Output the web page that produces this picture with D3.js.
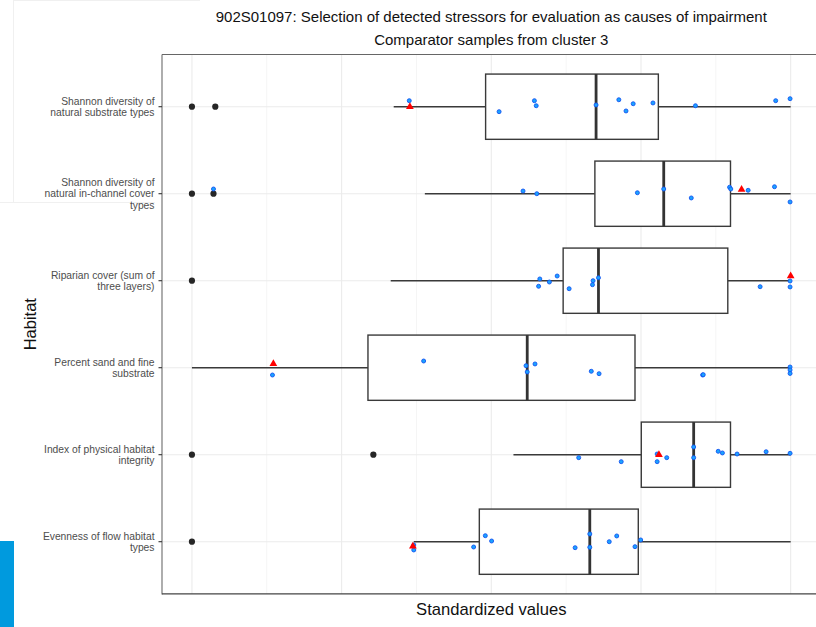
<!DOCTYPE html>
<html><head><meta charset="utf-8">
<script src="https://cdn.jsdelivr.net/npm/d3@7"></script>
<style>html,body{margin:0;padding:0;background:#fff;}svg{display:block;font-family:"Liberation Sans",Arial,sans-serif;}</style>
</head><body>
<svg id="chart" width="816" height="627"></svg>
<script>
const titleText = "902S01097: Selection of detected stressors for evaluation as causes of impairment";
const subtitleText = "Comparator samples from cluster 3";
const xTitle = "Standardized values";
const yTitle = "Habitat";

const categories = [
  "Shannon diversity of\nnatural substrate types",
  "Shannon diversity of\nnatural in-channel cover\ntypes",
  "Riparian cover (sum of\nthree layers)",
  "Percent sand and fine\nsubstrate",
  "Index of physical habitat\nintegrity",
  "Evenness of flow habitat\ntypes"
];

const whiskerLow  = [0.337, 0.389, 0.332, 0.000, 0.537, 0.3705];
const q1          = [0.4905, 0.673, 0.620, 0.294, 0.7505, 0.480];
const median      = [0.675, 0.788, 0.679, 0.560, 0.838, 0.6645];
const q3          = [0.779, 0.8995, 0.895, 0.740, 0.8995, 0.7455];
const whiskerHigh = [1.0, 1.0, 1.0, 1.0, 1.0, 1.0];

const outliers = [[0, 0.039], [0, 0.036], [0], [], [0, 0.303], [0]];

const sampleValues = [
  [0.363, 0.513, 0.572, 0.575, 0.675, 0.713, 0.725, 0.737, 0.770, 0.841, 0.975, 0.999],
  [0.036, 0.553, 0.576, 0.744, 0.788, 0.834, 0.898, 0.900, 0.929, 0.973, 0.999],
  [0.581, 0.579, 0.597, 0.610, 0.630, 0.670, 0.669, 0.679, 0.949, 0.999, 0.999],
  [0.1345, 0.387, 0.558, 0.560, 0.573, 0.667, 0.680, 0.853, 0.854, 0.999, 0.999, 0.999],
  [0.646, 0.717, 0.777, 0.777, 0.793, 0.838, 0.838, 0.879, 0.886, 0.9105, 0.959, 0.999],
  [0.3705, 0.3705, 0.4705, 0.490, 0.5005, 0.640, 0.6645, 0.6645, 0.697, 0.7095, 0.740, 0.7495]
];
const sampleJitter = [
  [-0.069, 0.057, -0.069, -0.011, -0.02, -0.08, 0.049, -0.034, -0.043, -0.011, -0.069, -0.092],
  [-0.054, -0.031, 0, -0.011, -0.054, 0.049, -0.074, -0.054, -0.039, -0.08, 0.095],
  [-0.02, 0.064, 0.015, -0.054, 0.092, 0, 0.046, -0.034, 0.069, 0.003, 0.072],
  [0.084, -0.077, -0.023, 0.049, -0.043, 0.041, 0.069, 0.084, 0.08, -0.008, 0.026, 0.066],
  [0.034, 0.08, -0.008, 0.08, 0.034, -0.089, 0.034, -0.039, -0.02, -0.008, -0.034, -0.016],
  [0.038, 0.095, 0.061, -0.069, -0.008, 0.069, -0.089, 0.064, 0, -0.066, 0.057, -0.02]
];

const siteValue  = [0.364, 0.918, 1.0, 0.136, 0.780, 0.369];
const siteJitter = [0, -0.048, -0.054, -0.046, 0, 0.053];

const svg = d3.select("#chart");
const W = 816, H = 627;
const panel = {left: 162, right: 820.6, top: 54.5, bottom: 593.9};

const x = d3.scaleLinear().domain([-0.05, 1.05]).range([panel.left, panel.right]);
const y = d3.scalePoint().domain(categories).range([panel.top, panel.bottom]).padding(0.6);
const step = y.step();
const boxH = step * 0.75;

// faint artifacts
svg.append("rect").attr("x", 0).attr("y", 541).attr("width", 14).attr("height", 86).attr("fill", "#009ADE");
svg.append("path").attr("d", "M13.5,0V202.5M0,202.5H155M13.5,0.5H200").attr("stroke", "#f0f0f0").attr("fill", "none");

// panel
svg.append("clipPath").attr("id", "pc").append("rect")
  .attr("x", panel.left).attr("y", panel.top).attr("width", panel.right - panel.left).attr("height", panel.bottom - panel.top);
const g = svg.append("g").attr("clip-path", "url(#pc)");
g.append("rect").attr("x", panel.left).attr("y", panel.top).attr("width", panel.right - panel.left).attr("height", panel.bottom - panel.top).attr("fill", "#fff");

const minorTicks = [0.125, 0.375, 0.625, 0.875];
const majorTicks = [0, 0.25, 0.5, 0.75, 1];
g.selectAll(".minor").data(minorTicks).join("line")
  .attr("x1", d => x(d)).attr("x2", d => x(d)).attr("y1", panel.top).attr("y2", panel.bottom)
  .attr("stroke", "#f2f2f2").attr("stroke-width", 0.8);
g.selectAll(".major").data(majorTicks).join("line")
  .attr("x1", d => x(d)).attr("x2", d => x(d)).attr("y1", panel.top).attr("y2", panel.bottom)
  .attr("stroke", "#ebebeb").attr("stroke-width", 1.1);
g.selectAll(".hgrid").data(categories).join("line")
  .attr("x1", panel.left).attr("x2", panel.right).attr("y1", d => y(d)).attr("y2", d => y(d))
  .attr("stroke", "#ebebeb").attr("stroke-width", 1.1);

const boxColor = "#3a3a3a";
categories.forEach((c, i) => {
  const cy = y(c);
  g.append("line").attr("x1", x(whiskerLow[i])).attr("x2", x(q1[i])).attr("y1", cy).attr("y2", cy)
    .attr("stroke", boxColor).attr("stroke-width", 1.4);
  g.append("line").attr("x1", x(q3[i])).attr("x2", x(whiskerHigh[i])).attr("y1", cy).attr("y2", cy)
    .attr("stroke", boxColor).attr("stroke-width", 1.4);
  g.append("rect").attr("x", x(q1[i])).attr("y", cy - boxH / 2).attr("width", x(q3[i]) - x(q1[i])).attr("height", boxH)
    .attr("fill", "#fff").attr("stroke", boxColor).attr("stroke-width", 1.4);
  g.append("line").attr("x1", x(median[i])).attr("x2", x(median[i])).attr("y1", cy - boxH / 2).attr("y2", cy + boxH / 2)
    .attr("stroke", "#333").attr("stroke-width", 2.8);
  outliers[i].forEach(v => {
    g.append("circle").attr("cx", x(v)).attr("cy", cy).attr("r", 3.1).attr("fill", "#262626");
  });
});

categories.forEach((c, i) => {
  const cy = y(c);
  sampleValues[i].forEach((v, j) => {
    g.append("circle").attr("cx", x(v)).attr("cy", cy + sampleJitter[i][j] * step).attr("r", 2)
      .attr("fill", "#1aa3ff").attr("stroke", "#1454f0").attr("stroke-width", 0.9);
  });
});

const tri = d3.symbol().type(d3.symbolTriangle).size(26);
categories.forEach((c, i) => {
  const cy = y(c);
  g.append("path").attr("d", tri()).attr("transform", `translate(${x(siteValue[i])},${cy + siteJitter[i] * step})`)
    .attr("fill", "#ff0000");
});

// axis lines
svg.append("line").attr("x1", panel.left).attr("x2", panel.left).attr("y1", panel.top).attr("y2", panel.bottom + 0.5)
  .attr("stroke", "#777").attr("stroke-width", 1.2);
svg.append("line").attr("x1", panel.left).attr("x2", W).attr("y1", panel.bottom).attr("y2", panel.bottom)
  .attr("stroke", "#444").attr("stroke-width", 1.2);
svg.append("line").attr("x1", panel.left).attr("x2", W).attr("y1", panel.top).attr("y2", panel.top)
  .attr("stroke", "#666").attr("stroke-width", 1);

// y ticks & labels
const yAxisG = svg.append("g");
categories.forEach(c => {
  const cy = y(c);
  yAxisG.append("line").attr("x1", panel.left - 3.5).attr("x2", panel.left).attr("y1", cy).attr("y2", cy)
    .attr("stroke", "#333").attr("stroke-width", 1.1);
  const lines = c.split("\n");
  const lh = 11.3;
  lines.forEach((ln, k) => {
    yAxisG.append("text").attr("x", 154.5).attr("y", cy + (k - (lines.length - 1) / 2) * lh + 3.7)
      .attr("text-anchor", "end").attr("font-size", 10.3).attr("fill", "#4d4d4d").text(ln);
  });
});

// titles
const cx = (panel.left + panel.right) / 2;
svg.append("text").attr("x", cx).attr("y", 21.5).attr("text-anchor", "middle").attr("font-size", 15).attr("fill", "#111").text(titleText);
svg.append("text").attr("x", cx).attr("y", 45).attr("text-anchor", "middle").attr("font-size", 15).attr("fill", "#111").text(subtitleText);
svg.append("text").attr("x", cx).attr("y", 615).attr("text-anchor", "middle").attr("font-size", 16.6).attr("fill", "#111").text(xTitle);
svg.append("text").attr("transform", `translate(35.5,${(panel.top + panel.bottom) / 2}) rotate(-90)`)
  .attr("text-anchor", "middle").attr("font-size", 16.5).attr("fill", "#111").text(yTitle);
</script>
</body></html>
